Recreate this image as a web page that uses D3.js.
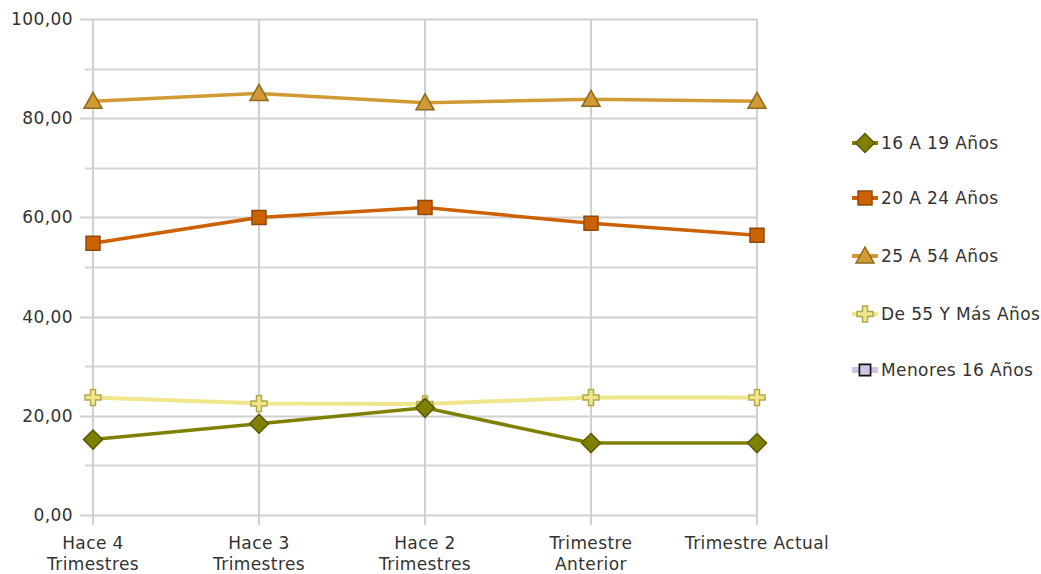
<!DOCTYPE html>
<html><head><meta charset="utf-8">
<script src="https://cdn.jsdelivr.net/npm/d3@7"></script>
<style>body{margin:0;background:#fff}text{font-family:"DejaVu Sans",sans-serif;fill:#333;letter-spacing:0.4px}</style>
</head><body><svg id="c" width="1041" height="574"></svg>
<script>
const categories = [["Hace 4","Trimestres"],["Hace 3","Trimestres"],["Hace 2","Trimestres"],["Trimestre","Anterior"],["Trimestre Actual"]];
const s16a19 = [15.2, 18.4, 21.6, 14.5, 14.5];
const s20a24 = [54.8, 60.0, 62.0, 58.8, 56.4];
const s25a54 = [83.4, 85.0, 83.1, 83.8, 83.4];
const s55mas = [23.7, 22.5, 22.4, 23.7, 23.7];
const sMenores16 = [null, null, null, null, null];
const seriesNames = ["16 A 19 Años","20 A 24 Años","25 A 54 Años","De 55 Y Más Años","Menores 16 Años"];
const yTicks = [0,20,40,60,80,100];
const yMinor = [10,30,50,70,90];

const styles = [
 {line:"#808000", fill:"#808000", stroke:"#5a5a00", sym:"diamond"},
 {line:"#cc6100", fill:"#cc6100", stroke:"#8f4a10", sym:"square"},
 {line:"#d29a34", fill:"#d29a34", stroke:"#8e6a1c", sym:"triangle"},
 {line:"#f0e68c", fill:"#f0e68c", stroke:"#b0a84c", sym:"cross"},
 {line:"#cfc3e6", fill:"#cfc3e6", stroke:"#111", sym:"square"}
];
const data = [s16a19, s20a24, s25a54, s55mas, sMenores16];

const svg = d3.select("#c");
const x = d3.scalePoint().domain(d3.range(categories.length)).range([93, 757]);
const y = d3.scaleLinear().domain([0,100]).range([515, 19]);

const g = svg.append("g");
g.selectAll(".mn").data(yMinor).join("line")
 .attr("x1",85).attr("x2",757).attr("y1",d=>Math.round(y(d))+0.5).attr("y2",d=>Math.round(y(d))+0.5)
 .attr("stroke","#d6d6d6").attr("stroke-width",2);
g.selectAll(".mj").data(yTicks).join("line")
 .attr("x1",80).attr("x2",757).attr("y1",d=>Math.round(y(d))+0.5).attr("y2",d=>Math.round(y(d))+0.5)
 .attr("stroke","#d0d0d0").attr("stroke-width",2);
g.selectAll(".vg").data(d3.range(categories.length)).join("line")
 .attr("x1",d=>x(d)).attr("x2",d=>x(d)).attr("y1",19).attr("y2",525)
 .attr("stroke","#d0d0d0").attr("stroke-width",2);

g.selectAll(".yl").data(yTicks).join("text")
 .attr("x",73).attr("y",d=>y(d)+6).attr("text-anchor","end").attr("font-size",17)
 .text(d=>d3.format(".2f")(d).replace(".",","));
categories.forEach((c,i)=>{
  const t = g.append("text").attr("text-anchor","middle").attr("font-size",17);
  c.forEach((ln,j)=>t.append("tspan").attr("x",x(i)).attr("y",549+j*21).text(ln));
});

function symPath(sym){
  if(sym==="diamond") return "M0,-9.5L9.5,0L0,9.5L-9.5,0Z";
  if(sym==="square") return "M-7,-7H7V7H-7Z";
  if(sym==="triangle") return "M0,-9L9,7H-9Z";
  if(sym==="cross") return "M-2.5,-8H2.5V-2.5H8V2.5H2.5V8H-2.5V2.5H-8V-2.5H-2.5Z";
}

const line = d3.line().defined(d=>d!=null).x((d,i)=>x(i)).y(d=>y(d));
const order = [3,0,1,2,4];
order.forEach(k=>{
  const st = styles[k];
  g.append("path").datum(data[k]).attr("d",line).attr("fill","none")
   .attr("stroke",st.line).attr("stroke-width",k===3?4:3.5);
});
order.forEach(k=>{
  const st = styles[k];
  g.selectAll(null).data(data[k].map((v,i)=>({v,i})).filter(d=>d.v!=null)).join("path")
   .attr("transform",d=>`translate(${x(d.i)},${y(d.v)})`)
   .attr("d",symPath(st.sym)).attr("fill",st.fill).attr("stroke",st.stroke).attr("stroke-width",1.5);
});

const ly = [143,198,256,314,370];
seriesNames.forEach((n,k)=>{
  const st = styles[k];
  const lg = svg.append("g").attr("transform",`translate(865,${ly[k]})`);
  lg.append("line").attr("x1",-13).attr("x2",13).attr("y1",0).attr("y2",0)
    .attr("stroke",st.line).attr("stroke-width",k===4?6:4);
  lg.append("path").attr("d",symPath(st.sym)).attr("fill",st.fill).attr("stroke",st.stroke)
    .attr("stroke-width",k===4?2:1.5).attr("transform",k===4?"scale(0.8)":null);
  lg.append("text").attr("x",16).attr("y",6).attr("font-size",17).text(n);
});
</script></body></html>
